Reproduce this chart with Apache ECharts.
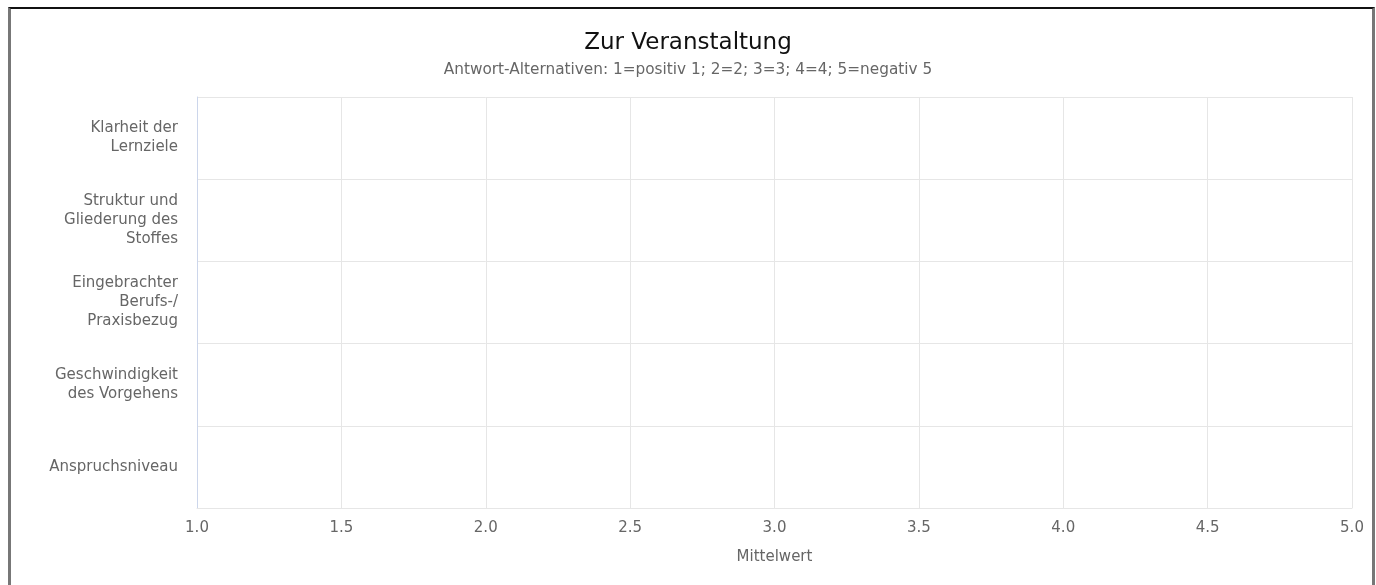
<!DOCTYPE html>
<html>
<head>
<meta charset="utf-8">
<title>Zur Veranstaltung</title>
<script src="https://cdn.jsdelivr.net/npm/echarts@6/dist/echarts.min.js"></script>
<style>
  html, body { margin: 0; padding: 0; background: #fff; }
  #chart { position: absolute; left: 0; top: 0; width: 1376px; height: 585px; }
  #frame {
    position: absolute; left: 8px; top: 7px; width: 1361px; height: 620px;
    border-top: 2px solid #111; border-left: 3px solid #777; border-right: 3px solid #777;
    pointer-events: none;
  }
</style>
</head>
<body>
<div id="chart"></div>
<div id="frame"></div>
<script>
// Kategorien (von oben nach unten)
var categories = [
  'Klarheit der\nLernziele',
  'Struktur und\nGliederung des\nStoffes',
  'Eingebrachter\nBerufs-/\nPraxisbezug',
  'Geschwindigkeit\ndes Vorgehens',
  'Anspruchsniveau'
]
// Mittelwerte – im Bild sind keine Balken vorhanden
var means = [null, null, null, null, null]
var xTicks = { min: 1, max: 5, interval: 0.5 }

var chart = echarts.init(document.getElementById('chart'))
var font = 'DejaVu Sans'

chart.setOption({
  animation: false,
  title: {
    text: 'Zur Veranstaltung',
    subtext: 'Antwort-Alternativen: 1=positiv 1; 2=2; 3=3; 4=4; 5=negativ 5',
    left: 'center',
    top: 27,
    itemGap: 8,
    textStyle: { fontFamily: font, fontSize: 23, fontWeight: 'normal', color: '#111' },
    subtextStyle: { fontFamily: font, fontSize: 15.3, color: '#666' }
  },
  grid: { left: 197, right: 24, top: 97, bottom: 77 },
  xAxis: {
    type: 'value',
    min: xTicks.min,
    max: xTicks.max,
    interval: xTicks.interval,
    name: 'Mittelwert',
    nameLocation: 'middle',
    nameGap: 42,
    nameTextStyle: { fontFamily: font, fontSize: 15, color: '#666' },
    axisLine: { show: true, lineStyle: { color: '#e6e6e6' } },
    axisTick: { show: false },
    axisLabel: {
      fontFamily: font, fontSize: 15, color: '#666', margin: 13,
      formatter: function (v) { return v.toFixed(1) }
    },
    splitLine: { show: true, lineStyle: { color: '#e6e6e6' } }
  },
  yAxis: {
    type: 'category',
    inverse: true,
    data: categories,
    axisLine: { show: true, lineStyle: { color: '#ccd6eb' } },
    axisTick: { show: false },
    axisLabel: {
      fontFamily: font, fontSize: 15, color: '#666', margin: 19, lineHeight: 19,
      padding: [4, 0, 0, 0]
    },
    splitLine: { show: true, lineStyle: { color: '#e6e6e6' } }
  },
  series: [
    {
      name: 'Mittelwert',
      type: 'bar',
      data: means,
      itemStyle: { color: '#7cb5ec' }
    }
  ]
})
</script>
</body>
</html>
